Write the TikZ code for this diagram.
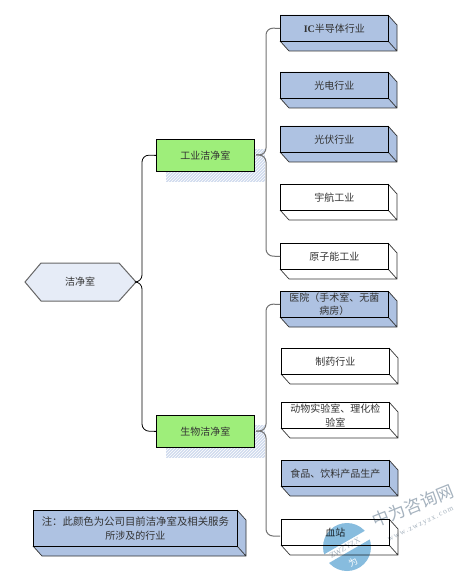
\documentclass[tikz,border=0pt]{standalone}
\usepackage{fontspec}
\setmainfont{Liberation Serif}
\newfontfamily\cjk{Noto Sans CJK SC}
\usetikzlibrary{patterns}
\definecolor{boxblue}{RGB}{174,194,226}
\definecolor{grn}{RGB}{158,238,122}
\definecolor{hexfill}{RGB}{230,236,247}
\definecolor{shad}{RGB}{208,219,238}
\definecolor{wm}{RGB}{135,188,222}
\definecolor{wmt}{RGB}{165,178,190}
\tikzset{
  x=1pt,y=-1pt,
  lbl/.style={font=\cjk\fontsize{10}{13.5}\selectfont,text=black!80,align=center,inner sep=0pt},
  bus/.style={line width=.8pt,rounded corners=7pt},
  busg/.style={line width=1pt,draw=black!55,rounded corners=7pt},
  facebox/.style={draw,line width=.8pt,inner sep=0pt,anchor=north west,lbl},
  greenbox/.style={facebox,fill=grn,minimum width=98,minimum height=32},
  edge3d/.style={line width=.7pt,draw=black!80},
}
% #1 name, #2 x, #3 y, #4 width, #5 height, #6 fill, #7 text
\newcommand{\slabb}[7]{%
  \fill[#6] (#2,#3) -- ++(#4,0) -- ++(9,10) -- ++(0,#5) -- ++(-#4,0) -- ++(-9,-10) -- cycle;
  \draw[edge3d] (#2+#4,#3) -- ++(9,10) -- ++(0,#5) -- ++(-#4,0) -- ++(-9,-10) (#2+#4,#3+#5) -- ++(9,10);
  \node[facebox,fill=#6,minimum width=#4,minimum height=#5] (#1) at (#2,#3) {#7};
}
\begin{document}
\begin{tikzpicture}
\useasboundingbox (0,0) rectangle (462,572);
\fill[white] (0,0) rectangle (462,572);
% shadows
\fill[shad] (166,149) rectangle (265,182);
\fill[shad] (166,425) rectangle (265,458);
\fill[pattern=north east lines,pattern color=white] (166,149) rectangle (265,182);
\fill[pattern=north east lines,pattern color=white] (166,425) rectangle (265,458);
% boxes
\slabb{ic}{280}{15}{108}{26}{boxblue}{{\rmfamily\bfseries IC}半导体行业}
\slabb{gd}{280}{72}{108}{26}{boxblue}{光电行业}
\slabb{gf}{280}{126}{108}{26}{boxblue}{光伏行业}
\slabb{yh}{280}{184}{108}{26}{white}{宇航工业}
\slabb{yz}{280}{243}{108}{26}{white}{原子能工业}
\slabb{yy}{280}{291}{108}{26}{boxblue}{医院（手术室、无菌\\病房）}
\slabb{zy}{281}{348}{108}{26}{white}{制药行业}
\slabb{dw}{281}{402}{108}{26}{white}{动物实验室、理化检\\验室}
\slabb{sp}{281}{460}{108}{26}{boxblue}{食品、饮料产品生产}
\slabb{xz}{281}{519}{108}{26}{white}{血站}
\slabb{notebox}{33}{510}{204}{36}{boxblue}{\fontsize{10.4}{13.5}\selectfont 注：此颜色为公司目前洁净室及相关服务\\所涉及的行业}
% hexagon
\draw[line width=1pt,draw=black!60,fill=hexfill] (25,282) -- (41,263) -- (119,263) -- (136,282) -- (119,301) -- (41,301) -- cycle;
\node[lbl] (hex) at (80,282) {洁净室};
\coordinate (hexr) at (136,282);
% green
\node[greenbox] (ind) at (156,139) {工业洁净室};
\node[greenbox] (bio) at (156,415) {生物洁净室};
\coordinate (indo) at (256,155);
\coordinate (bioo) at (256,431);
\coordinate (xzin) at (280,536);
% connectors
\draw[bus] (hexr) -- (142,282) -- (142,155) -- (ind.west);
\draw[bus] (hexr) -- (142,282) -- (142,431) -- (bio.west);
\draw[busg] (indo) -- (266,155) -- (266,28) -- (ic.west);
\draw[busg] (indo) -- (266,155) -- (266,256) -- (yz.west);
\draw[busg] (bioo) -- (266,431) -- (266,304) -- (yy.west);
\draw[busg] (bioo) -- (266,431) -- (266,536) -- (xzin);
% watermark
\begin{scope}[blend mode=multiply]
\begin{scope}
\clip (347,547) circle (24);
\fill[wm] (342.5,543.7) -- (377.1,523.7) -- (357.1,489.1) -- (287.9,529.1) -- (307.9,563.7) -- cycle;
\fill[wm] (347.5,552.3) -- (382.1,532.3) -- (402.1,566.9) -- (332.9,606.9) -- (312.9,572.3) -- cycle;
\end{scope}
\node[rotate=30,font=\fontsize{8}{8}\selectfont,text=wmt] (wa) at (345,548) {ZWZYZX};
\node[rotate=22,font=\cjk\fontsize{17}{17}\selectfont,text=wmt] (wc) at (413,506) {中为咨询网};
\node[rotate=26,font=\fontsize{7.5}{7.5}\selectfont,text=wmt] (wd) at (421,525) {w\,w\,w\,.\,z\,w\,z\,y\,z\,x\,.\,c\,o\,m};
\end{scope}
\node[rotate=30,font=\cjk\fontsize{9}{9}\selectfont,text=white] (wb) at (353,562) {为};
\end{tikzpicture}
\end{document}
